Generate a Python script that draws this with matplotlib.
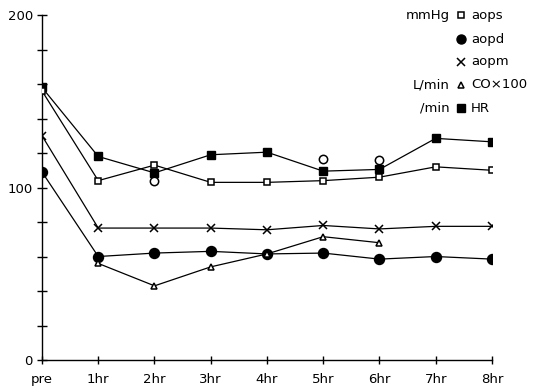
import numpy as np
import matplotlib
matplotlib.use("Agg")
import matplotlib.pyplot as plt
from matplotlib.lines import Line2D

# time points and measurements
times = ["pre", "1hr", "2hr", "3hr", "4hr", "5hr", "6hr", "7hr", "8hr"]
aops = [156, 104, 113, 103, 103, 104, 106, 112, 110]
aopd = [109, 60, 62, 63, 61.5, 62, 58.5, 60, 58.5]
aopm = [130, 76.5, 76.5, 76.5, 75.5, 78, 76, 77.5, 77.5]
hr = [158, 118, 108.5, 119, 120.5, 109.5, 110.5, 128.5, 126.5]
co_times = ["1hr", "2hr", "3hr", "4hr", "5hr", "6hr"]
co100 = [56, 43, 54, 61.5, 71.5, 68]
# single open-circle readings without a line
extra_times = ["2hr", "5hr", "6hr"]
extra_vals = [104, 116.5, 116]

plt.rcParams['font.family'] = ['DejaVu Sans']

fig = plt.figure(figsize=(5.5, 3.92), dpi=100)
ax = fig.add_axes([0.0764, 0.0816, 0.818, 0.880])

x = np.arange(len(times))
xi = {t: i for i, t in enumerate(times)}
lw = 0.9
ax.plot(x, aopd, color="black", lw=lw, marker="o", ms=7.2, mfc="black", zorder=3)
ax.plot([xi[t] for t in co_times], co100, color="black", lw=lw, marker="^", ms=5,
        mfc="white", mew=1.1, zorder=3)
ax.plot(x, aopm, color="black", lw=lw, marker="x", ms=6, mew=1.1, zorder=3)
ax.plot(x, hr, color="black", lw=lw, marker="s", ms=5.8, mfc="black", zorder=4)
ax.plot(x, aops, color="black", lw=lw, marker="s", ms=5, mfc="white", mew=1.1, zorder=5)
ax.plot([xi[t] for t in extra_times], extra_vals, ls="none", marker="o", ms=6,
        mfc="white", mec="black", mew=1.1, zorder=5)

ax.set_xlim(0, 8)
ax.set_ylim(0, 200)
ax.spines["top"].set_visible(False)
ax.spines["right"].set_visible(False)
for s in ("left", "bottom"):
    ax.spines[s].set_linewidth(1.0)

ax.set_xticks(x)
ax.set_xticklabels(times, fontsize=9.5)
ax.set_yticks([0, 100, 200])
ax.set_yticklabels(["0", "100", "200"], fontsize=9.5)
ax.set_yticks(np.arange(20, 200, 20), minor=True)
ax.tick_params(axis="x", direction="inout", length=6, width=1, pad=6)
ax.tick_params(axis="y", which="both", direction="inout", length=7, width=1, pad=3)

# legend with unit labels on the left
units = ["mmHg", "", "", "L/min", "/min"]
names = ["aops", "aopd", "aopm", "CO\u00d7100", "HR"]
styles = [
    dict(marker="s", ms=5, mfc="white", mec="black", mew=1.1),
    dict(marker="o", ms=6.5, mfc="black", mec="black"),
    dict(marker="x", ms=6, mec="black", mew=1.1),
    dict(marker="^", ms=5, mfc="white", mec="black", mew=1.1),
    dict(marker="s", ms=5.5, mfc="black", mec="black"),
]
rows_y = [377, 353, 330, 307, 284]
for u, n, st, py in zip(units, names, styles, rows_y):
    yf = py / 392
    fig.text(450 / 550, yf, u, ha="right", va="center", fontsize=9.5)
    fig.add_artist(Line2D([461 / 550], [yf], ls="none", transform=fig.transFigure, **st))
    fig.text(471 / 550, yf, n, ha="left", va="center", fontsize=9.5)

fig.savefig("out.png", dpi=100)
